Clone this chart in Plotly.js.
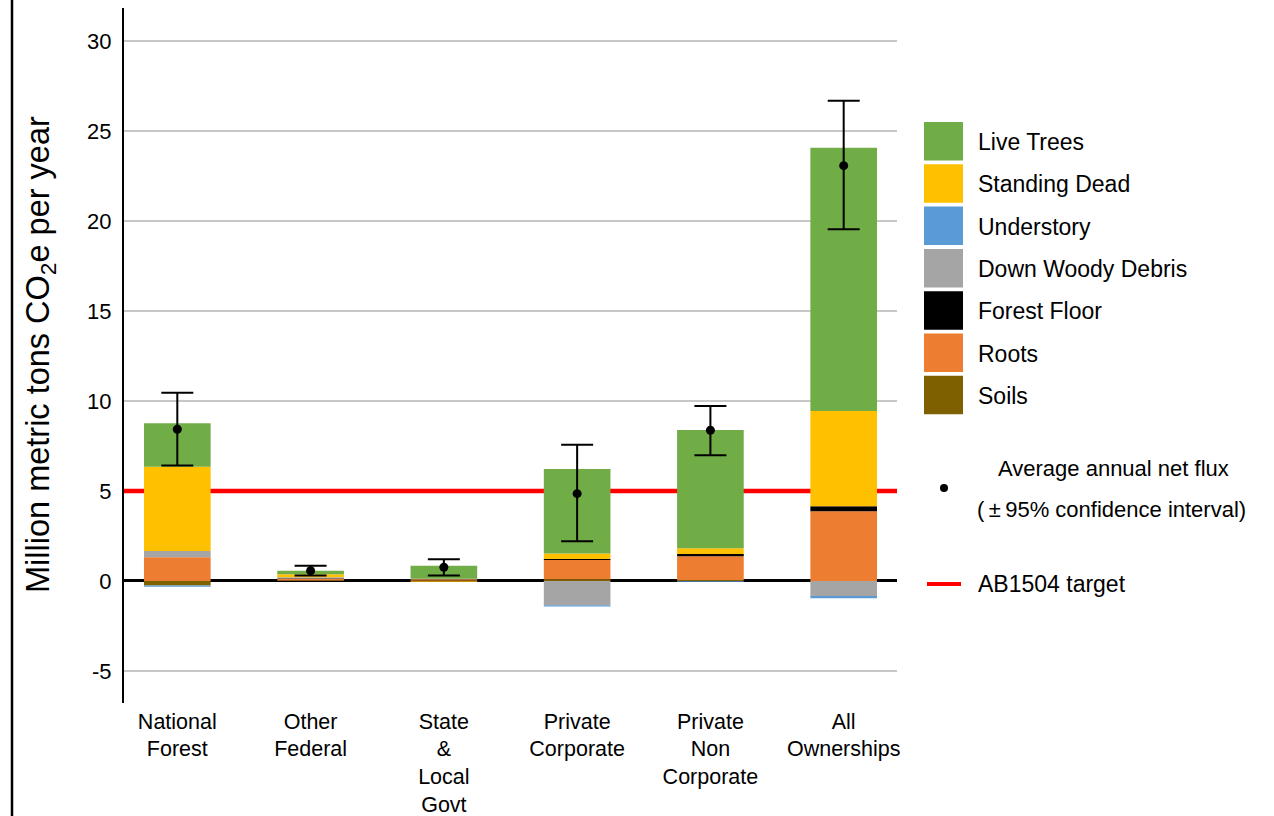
<!DOCTYPE html>
<html>
<head>
<meta charset="utf-8">
<script src="https://cdn.plot.ly/plotly-3.0.1.min.js"></script>
<style>
  html, body { margin: 0; padding: 0; background: #fff; }
  #chart { width: 1274px; height: 816px; }
</style>
</head>
<body>
<div id="chart"></div>
<script>
// ownership categories (x axis)
const owners = ['National<br>Forest', 'Other<br>Federal', 'State<br>&<br>Local<br>Govt',
                'Private<br>Corporate', 'Private<br>Non<br>Corporate', 'All<br>Ownerships'];

// carbon pools, million metric tons CO2e per year
const soils        = [-0.25, 0.02, 0.02, 0.10, 0.05, 0.00];
const roots        = [1.32, 0.10, 0.08, 1.07, 1.32, 3.87];
const forestFloor  = [0.00, 0.03, 0.00, 0.05, 0.13, 0.28];
const downWoody    = [0.35, 0.05, 0.02, -1.35, 0.00, -0.83];
const understory   = [-0.07, 0.00, 0.00, -0.07, -0.04, -0.13];
const standingDead = [4.68, 0.17, -0.05, 0.30, 0.32, 5.29];
const liveTrees    = [2.41, 0.20, 0.72, 4.70, 6.57, 14.62];

// average annual net flux with 95% confidence interval
const fluxMean  = [8.43, 0.57, 0.76, 4.85, 8.37, 23.07];
const fluxUpper = [10.45, 0.85, 1.20, 7.56, 9.72, 26.68];
const fluxLower = [6.41, 0.30, 0.30, 2.20, 6.98, 19.54];

const target = 5; // AB1504 target

const yTicks = [-5, 0, 5, 10, 15, 20, 25, 30];
const yTickText = ['-5', '0', '5', '10', '15', '20', '25', '30'];

const FONT = 'Liberation Sans, Arial, sans-serif';

// stacking order from zero outward
const pools = [
  { name: 'Soils',             y: soils,        color: '#7F6000' },
  { name: 'Roots',             y: roots,        color: '#ED7D31' },
  { name: 'Forest Floor',      y: forestFloor,  color: '#000000' },
  { name: 'Down Woody Debris', y: downWoody,    color: '#A5A5A5' },
  { name: 'Understory',        y: understory,   color: '#5B9BD5' },
  { name: 'Standing Dead',     y: standingDead, color: '#FFC000' },
  { name: 'Live Trees',        y: liveTrees,    color: '#70AD47' }
];

const data = pools.map(p => ({
  type: 'bar', x: owners, y: p.y, name: p.name,
  marker: { color: p.color, line: { width: 0 } },
  hoverinfo: 'x+y+name'
}));

data.push({
  type: 'scatter', mode: 'markers', x: owners, y: fluxMean,
  name: 'Average annual net flux',
  marker: { color: '#000', size: 9 },
  error_y: {
    type: 'data', symmetric: false,
    array: fluxUpper.map((u, i) => u - fluxMean[i]),
    arrayminus: fluxLower.map((l, i) => fluxMean[i] - l),
    color: '#000', thickness: 2, width: 16
  }
});

// pixel -> paper helpers (plot area 124..897 x 8..703)
const px = v => (v - 124) / 773;
const py = v => (703 - v) / 695;

// gridlines as shapes so the target line can sit on top of them, below the bars
const shapes = yTicks.filter(v => v !== 0).map(v => ({
  type: 'line', xref: 'paper', yref: 'y', x0: 0, x1: 1, y0: v, y1: v,
  line: { color: '#C8C8C8', width: 2 }, layer: 'below'
}));
shapes.push(
  { type: 'line', xref: 'paper', yref: 'y', x0: 0, x1: 1, y0: target, y1: target,
    line: { color: '#FF0000', width: 4.5 }, layer: 'below' },
  // left frame line
  { type: 'line', xref: 'paper', yref: 'paper', x0: px(12), x1: px(12), y0: py(816), y1: py(0),
    line: { color: '#000', width: 2.5 } }
);
const annotations = [
  { xref: 'paper', yref: 'paper', x: px(40), y: py(355), textangle: -90,
    text: 'Million metric tons CO<sub>2</sub>e per year', showarrow: false,
    xanchor: 'center', yanchor: 'middle', font: { family: FONT, size: 32.5, color: '#000' } }
];

// legend drawn by hand (tall square swatches)
const legendOrder = ['Live Trees', 'Standing Dead', 'Understory', 'Down Woody Debris',
                     'Forest Floor', 'Roots', 'Soils'];
legendOrder.forEach((name, i) => {
  const p = pools.find(q => q.name === name);
  const top = 122 + i * 42.3;
  shapes.push({ type: 'rect', xref: 'paper', yref: 'paper',
    x0: px(924), x1: px(963), y0: py(top + 38.5), y1: py(top),
    fillcolor: p.color, line: { width: 0 } });
  annotations.push({ xref: 'paper', yref: 'paper', x: px(976), y: py(top + 20),
    text: name, showarrow: false, xanchor: 'left', yanchor: 'middle',
    font: { family: FONT, size: 23, color: '#000' } });
});
shapes.push({ type: 'circle', xref: 'paper', yref: 'paper',
  x0: px(940), x1: px(948), y0: py(492), y1: py(484),
  fillcolor: '#000', line: { width: 0 } });
annotations.push({ xref: 'paper', yref: 'paper', x: px(1113), y: py(468),
  text: 'Average annual net flux', showarrow: false, xanchor: 'center', yanchor: 'middle',
  font: { family: FONT, size: 22, color: '#000' } });
annotations.push({ xref: 'paper', yref: 'paper', x: px(975), y: py(509),
  text: '(\u2009\u00B1\u200995% confidence interval)', showarrow: false, xanchor: 'left', yanchor: 'middle',
  font: { family: FONT, size: 22, color: '#000' } });
shapes.push({ type: 'line', xref: 'paper', yref: 'paper',
  x0: px(927), x1: px(961), y0: py(584), y1: py(584),
  line: { color: '#FF0000', width: 4 } });
annotations.push({ xref: 'paper', yref: 'paper', x: px(976), y: py(584),
  text: 'AB1504 target', showarrow: false, xanchor: 'left', yanchor: 'middle',
  font: { family: FONT, size: 23, color: '#000' } });

const layout = {
  width: 1274, height: 816,
  margin: { l: 124, r: 377, t: 8, b: 113 },
  paper_bgcolor: '#fff', plot_bgcolor: '#fff',
  barmode: 'relative', bargap: 0.5,
  showlegend: false,
  font: { family: FONT, color: '#000' },
  xaxis: {
    type: 'category', range: [-0.4, 5.4],
    showgrid: false, showline: false, ticks: '', zeroline: false,
    tickfont: { family: FONT, size: 21.5, color: '#000' },
    ticklabelstandoff: 3
  },
  yaxis: {
    range: [-6.78, 31.83], tickvals: yTicks, ticktext: yTickText,
    showgrid: false,
    zeroline: true, zerolinecolor: '#000', zerolinewidth: 3,
    showline: true, linecolor: '#000', linewidth: 2,
    ticks: '', ticklabelstandoff: 6,
    tickfont: { family: FONT, size: 22, color: '#000' }
  },
  shapes: shapes,
  annotations: annotations
};

Plotly.newPlot('chart', data, layout, { displayModeBar: false, staticPlot: true });
</script>
</body>
</html>
